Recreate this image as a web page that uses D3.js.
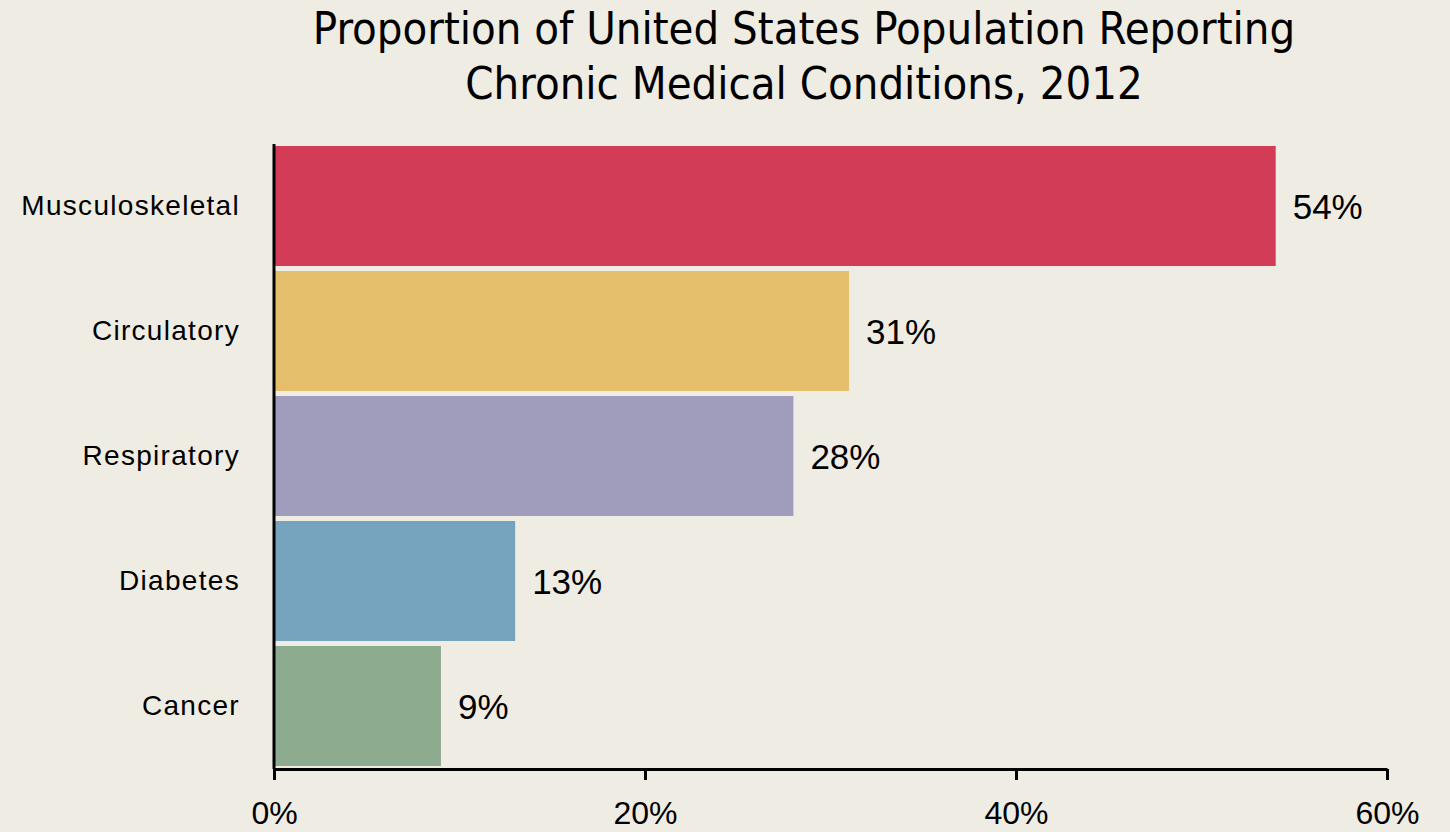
<!DOCTYPE html>
<html>
<head>
<meta charset="utf-8">
<script src="https://cdn.jsdelivr.net/npm/d3@7"></script>
<style>
  html, body { margin: 0; padding: 0; background: #EFECE4; }
  svg { display: block; }
</style>
</head>
<body>
<svg id="chart" width="1450" height="832"></svg>
<script>
// Chronic condition prevalence, US 2012 (percent of population)
const categories = ["Musculoskeletal", "Circulatory", "Respiratory", "Diabetes", "Cancer"];
const values = [54, 31, 28, 13, 9];
const colors = ["#D23C57", "#E5BF6B", "#A09CBB", "#76A3BE", "#8DAB8F"];
const tickValues = [0, 20, 40, 60];
const titleLines = ["Proportion of United States Population Reporting", "Chronic Medical Conditions, 2012"];

const svg = d3.select("#chart");
const W = 1450, H = 832;
const plot = { left: 274, right: 1387, top: 146, bottom: 766, axisY: 769 };

svg.append("rect").attr("width", W).attr("height", H).attr("fill", "#EFECE4");

const x = d3.scaleLinear().domain([0, 60]).range([plot.left, plot.right]);
const y = d3.scaleBand().domain(categories)
  .range([plot.top, plot.bottom])
  .paddingInner(0.04).paddingOuter(0);

const sans = "'Liberation Sans', Arial, sans-serif";

// Title
svg.append("g").selectAll("text").data(titleLines).join("text")
  .attr("x", 804).attr("y", (d, i) => 44 + i * 55)
  .attr("text-anchor", "middle")
  .attr("font-family", "'DejaVu Sans Condensed', 'Arial Narrow', sans-serif")
  .attr("font-stretch", "condensed")
  .attr("font-size", 45)
  .attr("fill", "#000")
  .text(d => d);

// Bars
svg.append("g").selectAll("rect").data(values).join("rect")
  .attr("x", x(0))
  .attr("y", (d, i) => y(categories[i]))
  .attr("width", d => x(d) - x(0))
  .attr("height", y.bandwidth())
  .attr("fill", (d, i) => colors[i]);

// Value labels
svg.append("g").selectAll("text").data(values).join("text")
  .attr("x", d => x(d) + 17)
  .attr("y", (d, i) => y(categories[i]) + y.bandwidth() / 2)
  .attr("dy", "0.36em")
  .attr("font-family", sans)
  .attr("font-size", 35)
  .attr("fill", "#000")
  .text(d => d + "%");

// Category labels
svg.append("g").selectAll("text").data(categories).join("text")
  .attr("x", 240)
  .attr("y", d => y(d) + y.bandwidth() / 2)
  .attr("dy", "0.33em")
  .attr("text-anchor", "end")
  .attr("font-family", sans)
  .attr("font-size", 28)
  .attr("letter-spacing", "1.3px")
  .attr("fill", "#000")
  .text(d => d);

// X axis
const xAxis = svg.append("g")
  .attr("transform", `translate(0,${plot.axisY})`)
  .call(d3.axisBottom(x).tickValues(tickValues).tickFormat(d => d + "%").tickSize(11).tickSizeOuter(0));
xAxis.select(".domain").attr("stroke", "#000").attr("stroke-width", 3);
xAxis.selectAll(".tick line").attr("stroke", "#000").attr("stroke-width", 3);
xAxis.selectAll(".tick text")
  .attr("font-family", sans)
  .attr("font-size", 32)
  .attr("fill", "#000")
  .attr("y", 55)
  .attr("dy", 0);

// Y axis line
svg.append("line")
  .attr("x1", x(0)).attr("x2", x(0))
  .attr("y1", plot.top - 2).attr("y2", plot.axisY)
  .attr("stroke", "#000").attr("stroke-width", 3);
</script>
</body>
</html>
